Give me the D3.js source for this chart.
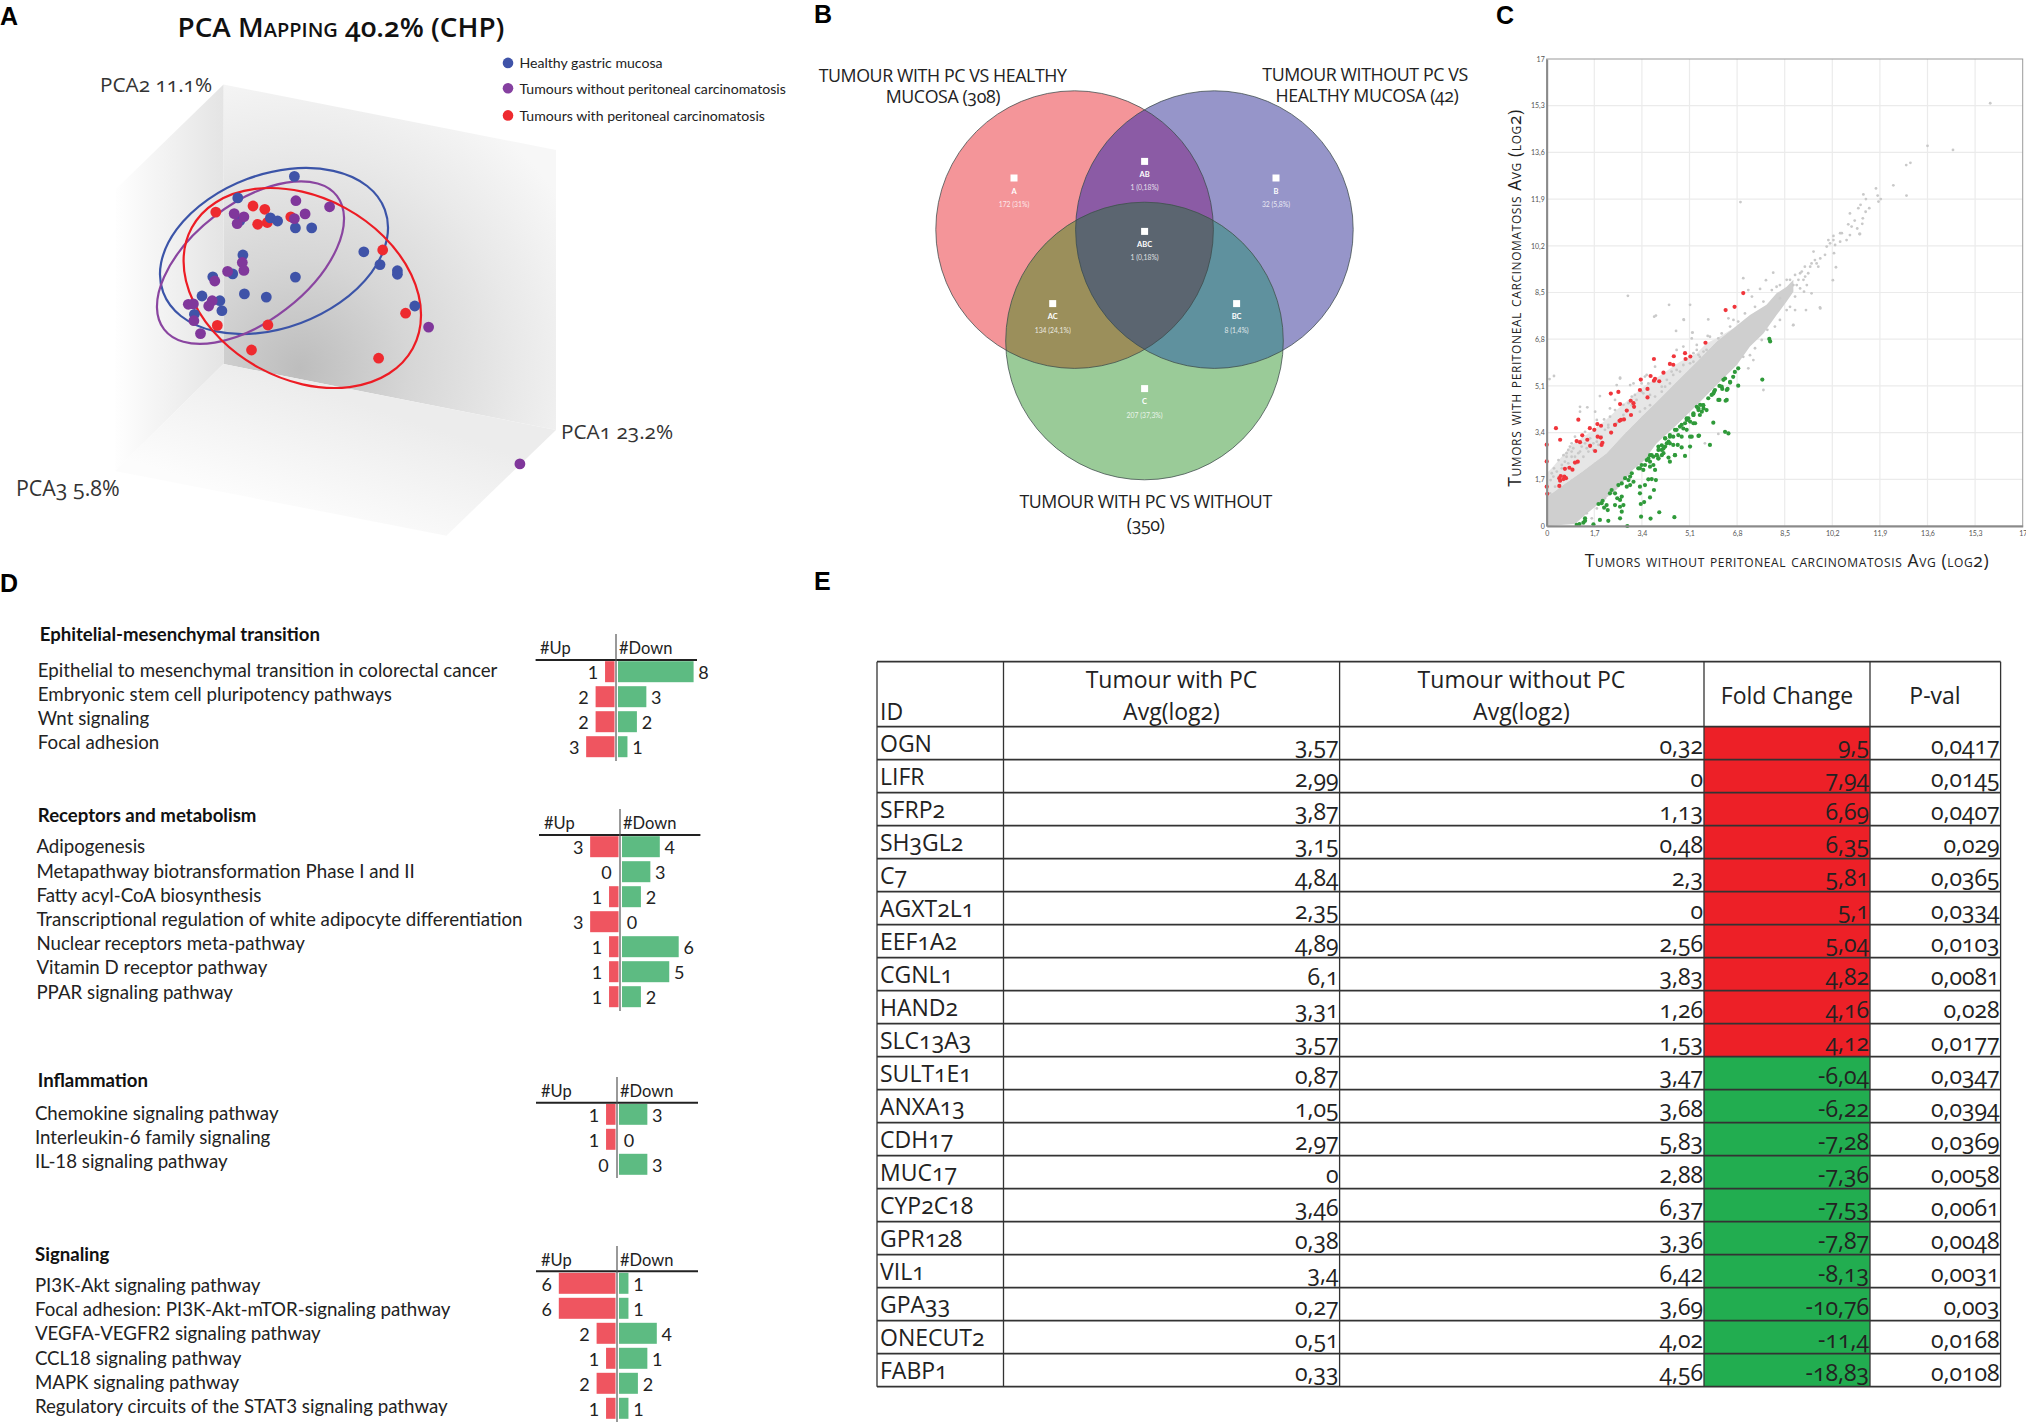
<!DOCTYPE html>
<html><head><meta charset="utf-8">
<script src="https://cdn.jsdelivr.net/npm/d3@7"></script>
<style>
html,body{margin:0;padding:0;background:#fff}
svg{display:block}
text{font-family:Lato,sans-serif;fill:#1a1a1a}
.onum{font-family:"Open Sans",Lato,sans-serif;font-feature-settings:"onum" 1;font-variant-numeric:oldstyle-nums}
.cap{font-variant-caps:small-caps}
</style></head><body>
<script>
// ---------- Panel A: PCA projection (projected plot units) ----------
const pcaHealthy=[[294.4,176.4],[237.8,197.9],[270.4,217.9],[277.6,221],[239.8,220.7],[295.4,227.9],[311.7,227.9],[363.8,251.8],[380,264.6],[397.4,270.7],[397.4,274.3],[242.9,255],[295.4,277.1],[212.8,276.8],[232.7,273.9],[244.4,293.9],[266.3,297.1],[202,296],[219.9,300.7],[221.9,310.7],[194.4,314.3],[414.8,306]];
const pcaWithout=[[295.9,200.7],[329.6,206.8],[305.1,213.9],[294.4,218.6],[234.2,213.6],[243.9,216.8],[237.2,223.6],[242.3,262.5],[243.9,270.4],[227.6,271.4],[214.8,281],[212.2,300.7],[208.7,306],[188.3,304.3],[193.4,303.9],[193.9,320.7],[200.5,333.6],[428.6,327.1],[519.9,463.9]];
const pcaWith=[[215.8,212.1],[253,206],[264.8,209.3],[290.8,216.8],[267.3,222.5],[257.7,224.3],[382.7,250],[405.6,313.2],[217.3,325.4],[267.9,325],[251.5,350],[378.6,358.2]];
const pcaLegend=["Healthy gastric mucosa","Tumours without peritoneal carcinomatosis","Tumours with peritoneal carcinomatosis"];
// ---------- Panel B: Venn ----------
const vennRegions=["A","AB","B","ABC","AC","BC","C"];
const vennCounts=["172 (31%)","1 (0,18%)","32 (5,8%)","1 (0,18%)","134 (24,1%)","8 (1,4%)","207 (37,3%)"];
// ---------- Panel C: scatter, [without PC, with PC] ----------
const cTicks=[0,1.7,3.4,5.1,6.8,8.5,10.2,11.9,13.6,15.3,17];
const denseCloud=[[0,1.05],[.6,1.5],[1.3,2],[2.14,2.65],[2.74,3.31],[3.33,3.92],[3.93,4.52],[4.64,5.25],[5.36,5.98],[6.07,6.72],[6.67,7.2],[7.26,7.68],[7.85,8.05],[8.21,8.47],[8.57,8.71],[8.81,8.96],[8.81,8.53],[8.57,8.17],[8.21,7.68],[7.74,7.01],[7.26,6.53],[6.79,5.86],[6.07,5.13],[5.36,4.4],[4.64,3.68],[3.93,3.01],[3.45,2.36],[3.09,2.06],[2.5,1.33],[1.96,.89],[1.37,.4],[1.01,.07],[0,0]];
const sparseFringe=[[0,1.92],[.18,2.1],[.48,2.46],[.89,2.95],[1.67,3.5],[2.08,3.83],[2.5,4.22],[2.98,4.65],[3.45,5.07],[4.17,5.56],[4.76,5.98],[5.36,6.29],[5.71,6.65],[6.19,6.9],[6.67,7.2],[6.07,6.72],[5.36,5.98],[4.64,5.25],[3.93,4.52],[3.33,3.92],[2.74,3.31],[2.14,2.65],[1.3,2],[.6,1.5],[0,1.05]];
const greyPoints=[[.1,5.35],[.26,5.46],[1.19,4.16],[1.45,4.32],[1.9,4.73],[2.62,5.4],[4.62,7.1],[5.2,7.04],[3.51,5.44],[.12,1.19],[.14,1.67],[.18,1.92],[.26,2.1],[.42,2.4],[.6,2.58],[.77,2.77],[.89,3.01],[1.01,3.25],[1.25,2.89],[1.37,3.01],[1.67,2.77],[1.85,2.95],[2.08,3.5],[2.2,3.68],[2.05,3.88],[1.79,3.86],[2.26,3.98],[2.44,4.22],[2.74,4.41],[3.04,4.71],[3.21,4.59],[3.45,4.83],[3.69,4.77],[4.11,5.07],[4.29,5.32],[4.46,5.62],[4.64,5.68],[4.88,5.86],[5.24,5.98],[5.42,6.23],[5.6,6.35],[5.83,6.89],[6.13,6.83],[2.98,5.13],[3.39,5.19],[3.57,5.5],[4.64,6.41],[5.36,6.59],[.89,2.71],[.71,2.52],[.54,2.22],[.77,2.28],[1.01,2.52],[1.19,2.71],[1.43,2.83],[1.43,.46],[1.61,.28],[1.79,.64],[2.08,1.01],[5.65,3.01],[6.13,3.35],[5.12,8.05],[5.77,7.52],[4.9,7.5],[5.21,7.04],[5.18,6.83],[5.75,6.92],[6.49,7.56],[6.67,7.5],[7.02,9.02],[7.2,8.59],[7.33,8.35],[7.62,8.63],[7.83,8.95],[8.09,9.22],[8.21,8.71],[8.57,8.96],[8.81,7.32],[9.26,7.86],[9.77,7.92],[7.74,4.95],[10.22,8.95],[10.33,9.42],[10.24,10.56],[9.19,8.53],[9.46,8.47],[8.87,7.86],[8.69,7.98],[8.33,8.29],[8.69,8.96],[8.87,9.14],[9.05,9.2],[8.81,8.77],[8.99,8.96],[9.22,9.44],[9.34,9.2],[9.17,8.96],[9.29,8.77],[9.58,9.68],[9.46,9.56],[9.7,9.44],[9.53,9.99],[9.77,9.74],[9.94,9.87],[10,10.17],[10.12,10.29],[10.26,9.93],[10.3,10.23],[10.24,10.41],[10.06,10.41],[10.48,10.66],[10.71,10.41],[10.83,10.59],[11.19,10.63],[10.48,10.35],[8.93,8.77],[9.11,9.26],[9.23,9.08],[9.41,9.44],[9.64,9.56],[15.84,15.39],[13.6,13.84],[14.51,13.69],[12.84,13.14],[12.99,13.22],[12.38,12.4],[12.85,12.03],[11.76,12.29],[11.31,12.07],[11.82,12.03],[11.93,11.9],[11.85,11.81],[11.4,11.9],[11.21,11.69],[11.52,11.57],[11.13,11.57],[11.39,11.44],[10.83,11.38],[11.29,11.2],[11,11.12],[10.77,10.98],[10.89,10.9],[11.09,10.83],[11.27,11],[11.17,10.63],[10.54,10.66],[6.92,11.79],[2.9,8.38],[4.37,8.05],[3.84,7.62],[3.9,7.66],[4.89,7.52],[9.76,7.96],[8.8,7.31],
[4.11,4.89],[4.4,5.19],[4.52,5.5],[4.76,5.62],[5.12,5.92],[5.24,6.29],[5.47,6.16],[5.71,6.41],[3.87,5.8],[3.63,5.19],[3.39,4.89],[3.1,5.19],[3.15,4.77],[2.92,4.47],[3.04,4.4],[2.74,4.04],[2.5,3.74],[2.26,4.28],[1.73,4.16],[2.62,5.37],[2.5,5.13],[2.2,3.59],[1.96,3.25],[1.79,3.07],[1.55,2.95],[4.88,6.53],[5.36,6.41],[3.87,4.71],[4.23,5.07],[3.69,4.4],[3.51,4.28],[3.33,4.16],[2.44,4.59],[.3,1.43],[.24,1.8],[.36,1.98],[.65,2.34],[.89,2.52],[1.13,2.65],[1.31,2.52],[1.07,2.28],[1.49,2.71],[1.67,3.01],[1.96,3.25],[.83,2.89],[.71,2.65],[.95,2.83],[.54,2.1],[1.55,3.19],[1.37,3.43],[1.19,4.34],
[6.25,7.01],[6.55,7.26],[6.84,7.44],[7.08,7.74],[7.44,7.98],[7.74,8.17],[8.04,8.59],[8.33,8.77],[7.02,6.16],[7.26,6.22],[7.44,6.47],[7.68,6.77],[7.88,7.14],[8.15,7.26],[8.33,7.5],[8.57,7.86],[8.87,8.35],[9.05,8.65],[7.2,5.74],[7.38,6.04]];
const redPoints=[[1.13,3.87],[.33,3.56],[.48,3.14],[0,2.96],[0,2.35],[0,1.43],[.02,1.17],[.45,1.46],[.45,1.74],[.48,1.65],[.63,1.8],[.69,1.74],[.6,1.71],[.5,1.82],[.65,2.08],[.81,2.12],[.92,2.05],[1.01,2.31],[1.11,2.34],[1.07,3.09],[1.19,3.05],[1.27,3.3],[1.45,3.14],[1.55,2.92],[1.54,3.56],[1.7,3.5],[1.81,3.71],[1.94,3.65],[1.82,3.25],[1.93,3.22],[1.96,2.95],[1.99,3.03],[1.73,2.73],[2.3,3.4],[2.44,3.68],[2.6,3.83],[2.65,3.86],[2.76,3.88],[3.01,4.04],[2.86,4.2],[2.62,4.44],[2.29,4.82],[2.56,4.88],[3,4.56],[3.1,4.47],[3.12,4.34],[3.33,4.95],[3.36,5.33],[3.6,4.99],[3.6,4.68],[3.71,5.46],[3.83,5.29],[3.87,5.36],[4.02,5.27],[3.83,6.08],[4.17,5.58],[4.4,5.9],[4.52,5.87],[4.54,6.18],[4.94,6.29],[4.96,6.08],[5.13,6.17],[5.67,6.67],[6.39,7.86],[6.71,7.98],[7.02,8.48]];
const greenPoints=[[1.07,.04],[1.17,.07],[1.31,.12],[1.37,.28],[1.37,.19],[1.67,.06],[1.9,.22],[2.2,.19],[2.62,.28],[2.88,0],[3.37,.34],[3.71,.27],[4.02,.5],[4.56,.32],[3.36,.8],[3.48,.87],[3.69,1.04],[2.68,.52],[2.62,.7],[2.74,.76],[2.44,.76],[2.14,.76],[2.05,.67],[2.18,.58],[1.96,.83],[1.85,.8],[2,.92],[2.26,1.19],[2.32,1.31],[2.44,1.19],[2.52,1.01],[2.62,.95],[2.68,1.07],[2.56,1.49],[2.68,1.55],[2.8,1.74],[2.92,1.67],[2.98,1.8],[3.04,1.92],[2.86,1.43],[2.98,1.49],[3.1,1.61],[3.33,1.19],[3.33,1.43],[3.51,1.49],[3.83,1.31],[3.63,1.7],[3.75,1.71],[3.9,1.67],[3.87,2.04],[3.45,2.04],[3.27,2.1],[3.39,2.22],[3.57,2.4],[3.69,2.34],[3.75,2.58],[3.93,2.58],[4.11,2.77],[3.99,2.89],[4.29,3.01],[4.23,3.19],[4.4,3.25],[4.64,3.5],[4.82,3.68],[5,3.92],[5.24,4.1],[5.48,4.41],[5.77,4.65],[5.98,4.89],[6.31,5.32],[6.55,5.22],[6.25,5.07],[6.43,4.95],[6.13,4.59],[6.43,4.59],[5.95,3.76],[6.37,3.43],[6.49,3.37],[5.83,2.95],[5.42,3.28],[5.12,2.89],[4.94,2.55],[4.58,2.58],[4.4,2.34],[4.68,2.95],[4.82,2.86],[5.12,3.25],[4.82,3.25],[4.52,2.95],[4.4,3.01],[4.17,2.65],[3.99,2.46],[4.23,2.89],[5.24,3.74],[5,3.5],[5.6,4.28],[5.42,4.22],[7.7,5.33],[7.95,6.81],[7.98,6.72],[6.84,5.11],[6.84,5.74],[6.72,5.61],[6.66,5.43],[6.55,5.25],[6.37,5.37],[6.17,5.1],[6.46,4.99],[6.27,4.99],[5.95,4.82],[6.17,4.59],[6.39,4.56],[5.59,4.39],[5.36,4.34],[5.24,4.04],[5,3.86],
[6.01,4.95],[5.89,4.77],[5.59,4.4],[5.42,4.28],[5.54,4.16],[5.24,4.04],[5.06,3.92],[4.94,3.74],[4.76,3.62],[4.58,3.5],[4.4,3.31],[4.23,3.19],[4.11,2.94],[3.99,2.77],[3.81,2.52],[3.63,2.46],[3.51,2.22],[3.33,2.1],[5.12,3.8],[4.88,3.55],[4.7,3.31],[4.52,3.25],[4.35,3.07],[4.17,2.82],[4.11,2.58],[4.35,2.49],[4.58,2.58],[5.18,3.25],[5.44,3.29],[5.3,3.74],[5.47,4.04],[5.71,4.22],[3.93,2.58],[3.69,2.58],[3.99,2.46],[3.81,2.22],[3.69,2.16]];
// ---------- Panel D ----------
const emtTitle="Ephitelial-mesenchymal transition";
const emtPaths=["Epithelial to mesenchymal transition in colorectal cancer","Embryonic stem cell pluripotency pathways","Wnt signaling","Focal adhesion"];
const emtUp=[1,2,2,3], emtDown=[8,3,2,1], emtDownLabel=[8,3,2,1];
const recTitle="Receptors and metabolism";
const recPaths=["Adipogenesis","Metapathway biotransformation Phase I and II","Fatty acyl-CoA biosynthesis","Transcriptional regulation of white adipocyte differentiation","Nuclear receptors meta-pathway","Vitamin D receptor pathway","PPAR signaling pathway"];
const recUp=[3,0,1,3,1,1,1], recDown=[4,3,2,0,6,5,2], recDownLabel=[4,3,2,0,6,5,2];
const infTitle="Inflammation";
const infPaths=["Chemokine signaling pathway","Interleukin-6 family signaling","IL-18 signaling pathway"];
const infUp=[1,1,0], infDown=[3,0,3], infDownLabel=[3,0,3];
const sigTitle="Signaling";
const sigPaths=["PI3K-Akt signaling pathway","Focal adhesion: PI3K-Akt-mTOR-signaling pathway","VEGFA-VEGFR2 signaling pathway","CCL18 signaling pathway","MAPK signaling pathway","Regulatory circuits of the STAT3 signaling pathway"];
const sigUp=[6,6,2,1,2,1], sigDown=[1,1,4,3,2,1], sigDownLabel=[1,1,4,1,2,1];
// ---------- Panel E ----------
const geneIds=["OGN","LIFR","SFRP2","SH3GL2","C7","AGXT2L1","EEF1A2","CGNL1","HAND2","SLC13A3","SULT1E1","ANXA13","CDH17","MUC17","CYP2C18","GPR128","VIL1","GPA33","ONECUT2","FABP1"];
const avgWith=["3,57","2,99","3,87","3,15","4,84","2,35","4,89","6,1","3,31","3,57","0,87","1,05","2,97","0","3,46","0,38","3,4","0,27","0,51","0,33"];
const avgWithout=["0,32","0","1,13","0,48","2,3","0","2,56","3,83","1,26","1,53","3,47","3,68","5,83","2,88","6,37","3,36","6,42","3,69","4,02","4,56"];
const foldChange=["9,5","7,94","6,69","6,35","5,81","5,1","5,04","4,82","4,16","4,12","-6,04","-6,22","-7,28","-7,36","-7,53","-7,87","-8,13","-10,76","-11,4","-18,83"];
const pVal=["0,0417","0,0145","0,0407","0,029","0,0365","0,0334","0,0103","0,0081","0,028","0,0177","0,0347","0,0394","0,0369","0,0058","0,0061","0,0048","0,0031","0,003","0,0168","0,0108"];

const svg=d3.select("body").append("svg").attr("width",2026).attr("height",1423).attr("viewBox","0 0 2026 1423");
const defs=svg.append("defs");
function T(g,s,x,y,o={}){
  const e=g.append("text").attr("x",x).attr("y",y).attr("dominant-baseline","central").text(s);
  if(o.size)e.style("font-size",o.size+"px");
  if(o.w)e.style("font-weight",o.w);
  if(o.a)e.attr("text-anchor",o.a);
  if(o.c)e.attr("class",o.c);
  if(o.f)e.style("fill",o.f);
  if(o.ff)e.style("font-family",o.ff);
  if(o.ls)e.style("letter-spacing",o.ls);
  if(o.op)e.style("opacity",o.op);
  return e;
}
// panel letters
[["A",0,16],["B",814,14],["C",1496,15],["D",0,583],["E",814,581]].forEach(d=>T(svg,d[0],d[1],d[2],{size:25,w:700,ff:'"Liberation Sans",Arial,sans-serif',f:"#000"}));

// ===== A =====
(function(){
  const g=svg.append("g");
  const x=d3.scaleLinear([0,800],[0,800]), y=d3.scaleLinear([0,560],[0,560]);
  const back=defs.append("radialGradient").attr("id","back").attr("gradientUnits","userSpaceOnUse").attr("cx",300).attr("cy",368).attr("r",310);
  [[0,"#bdbdbd"],[.35,"#d6d6d6"],[.7,"#e9e9e9"],[1,"#f7f7f7"]].forEach(s=>back.append("stop").attr("offset",s[0]).attr("stop-color",s[1]));
  const left=defs.append("linearGradient").attr("id","leftw").attr("gradientUnits","userSpaceOnUse").attr("x1",224).attr("y1",0).attr("x2",112).attr("y2",0);
  [[0,"#e4e4e4"],[1,"#ffffff"]].forEach(s=>left.append("stop").attr("offset",s[0]).attr("stop-color",s[1]));
  const fl=defs.append("linearGradient").attr("id","floor").attr("gradientUnits","userSpaceOnUse").attr("x1",320).attr("y1",390).attr("x2",280).attr("y2",510);
  [[0,"#ececec"],[1,"#fcfcfc"]].forEach(s=>fl.append("stop").attr("offset",s[0]).attr("stop-color",s[1]));
  const walls=[{id:"back",p:[[223.5,84.6],[556,150],[556,430],[223.5,364]]},{id:"leftw",p:[[223.5,84.6],[223.5,364],[115,471],[116,189]]},{id:"floor",p:[[223.5,364],[556,430],[446.4,535.7],[115,471]]}];
  g.selectAll("polygon").data(walls).join("polygon").attr("points",d=>d.p.map(q=>[x(q[0]),y(q[1])].join(",")).join(" ")).attr("fill",d=>`url(#${d.id})`);
  T(svg,"PCA Mapping 40.2% (CHP)",341,26,{size:27.9,w:600,a:"middle",c:"cap onum",f:"#111"});
  T(svg,"PCA2 11.1%",100,84,{size:20.8,c:"onum",f:"#333"});
  T(svg,"PCA1 23.2%",561,431,{size:20.8,c:"onum",f:"#333"});
  T(svg,"PCA3 5.8%",16,487,{size:21.4,c:"onum",f:"#333"});
  const ell=[{c:"#3b54a8",cx:274,cy:251,a:118.3,b:76.8,t:-20.5},{c:"#8a45a0",cx:250.5,cy:262.6,a:109.2,b:58.6,t:-37.7},{c:"#ed1c24",cx:302.3,cy:288,a:125.9,b:90.8,t:28.7}];
  g.selectAll("ellipse").data(ell).join("ellipse").attr("rx",d=>d.a).attr("ry",d=>d.b)
    .attr("transform",d=>`translate(${x(d.cx)},${y(d.cy)}) rotate(${d.t})`).attr("fill","none").attr("stroke",d=>d.c).attr("stroke-width",2.2);
  const series=[[pcaWith,"#ee2a2f"],[pcaHealthy,"#3f53a8"],[pcaWithout,"#80379b"]];
  series.forEach(([pts,col])=>g.append("g").selectAll("circle").data(pts).join("circle").attr("cx",d=>x(d[0])).attr("cy",d=>y(d[1])).attr("r",5.4).attr("fill",col));
  const lc=["#3f53a8","#8540a0","#ee2a2f"], ly=[62.9,88.2,115.4];
  pcaLegend.forEach((s,i)=>{g.append("circle").attr("cx",x(508)).attr("cy",y(ly[i])).attr("r",5.3).attr("fill",lc[i]);T(svg,s,519.5,ly[i],{size:14.1,f:"#222"});});
})();

// ===== B =====
(function(){
  const g=svg.append("g");
  const A=[1074.6,229.6],B=[1214.4,229.6],C=[1144.5,341],r=138.8;
  [["cA",A],["cB",B],["cC",C]].forEach(([id,c])=>defs.append("clipPath").attr("id",id).append("circle").attr("cx",c[0]).attr("cy",c[1]).attr("r",r));
  const circ=(c,f)=>g.append("circle").attr("cx",c[0]).attr("cy",c[1]).attr("r",r).attr("fill",f);
  circ(A,"#f49599");circ(B,"#9695c9");circ(C,"#9acb98");
  const gAB=g.append("g").attr("clip-path","url(#cA)");gAB.append("circle").attr("cx",B[0]).attr("cy",B[1]).attr("r",r).attr("fill","#8b5ba5");
  const gAC=g.append("g").attr("clip-path","url(#cA)");gAC.append("circle").attr("cx",C[0]).attr("cy",C[1]).attr("r",r).attr("fill","#9b8f5b");
  const gBC=g.append("g").attr("clip-path","url(#cB)");gBC.append("circle").attr("cx",C[0]).attr("cy",C[1]).attr("r",r).attr("fill","#5f919e");
  const gABC=g.append("g").attr("clip-path","url(#cA)").append("g").attr("clip-path","url(#cB)");gABC.append("circle").attr("cx",C[0]).attr("cy",C[1]).attr("r",r).attr("fill","#5b6570");
  [A,B,C].forEach(c=>g.append("circle").attr("cx",c[0]).attr("cy",c[1]).attr("r",r).attr("fill","none").attr("stroke","#3c4a4a").attr("stroke-opacity",.75).attr("stroke-width",1));
  const lp=[[1014,178],[1144.6,161.4],[1276,178],[1144.6,231.4],[1052.7,303.6],[1236.6,303.6],[1144.6,388.6]];
  vennRegions.forEach((s,i)=>{const[px,py]=lp[i];
    g.append("rect").attr("x",px-3.5).attr("y",py-3.5).attr("width",7).attr("height",7).attr("fill","#fff");
    T(svg,s,px,py+13,{size:7.5,w:700,a:"middle",f:"#fff"});
    T(svg,vennCounts[i],px,py+26,{size:6.8,a:"middle",f:"#fff",op:.8});
  });
  const o={size:17.8,a:"middle",c:"onum",f:"#222",w:500,ls:"-0.4px"};
  T(svg,"TUMOUR WITH PC VS HEALTHY",942.6,74.5,o);T(svg,"MUCOSA (308)",942.9,96,o);
  T(svg,"TUMOUR WITHOUT PC VS",1365,74,o);T(svg,"HEALTHY MUCOSA (42)",1367,95,o);
  T(svg,"TUMOUR WITH PC VS WITHOUT",1145.6,501,o);T(svg,"(350)",1145.6,523.5,o);
})();

// ===== C =====
(function(){
  const g=svg.append("g");
  const x=d3.scaleLinear([0,17],[1546.7,2022.7]), y=d3.scaleLinear([0,17],[526,59]);
  const fmt=d=>String(d).replace(".",",");
  g.append("g").selectAll("line").data(cTicks.slice(1,-1)).join("line").attr("x1",d=>x(d)).attr("x2",d=>x(d)).attr("y1",y(17)).attr("y2",y(0)).attr("stroke","#ebebeb").attr("stroke-width",1.2);
  g.append("g").selectAll("line").data(cTicks.slice(1,-1)).join("line").attr("y1",d=>y(d)).attr("y2",d=>y(d)).attr("x1",x(0)).attr("x2",x(17)).attr("stroke","#ebebeb").attr("stroke-width",1.2);
  const area=d3.line().x(d=>x(d[0])).y(d=>y(d[1]));
  g.append("path").datum(sparseFringe).attr("d",area).attr("fill","#e6e6e6");
  g.append("path").datum(denseCloud).attr("d",area).attr("fill","#cfcfcf");
  const dots=(pts,r,col)=>g.append("g").selectAll("circle").data(pts).join("circle").attr("cx",d=>x(d[0])).attr("cy",d=>y(d[1])).attr("r",r).attr("fill",col);
  dots(greyPoints,1.4,"#c9c9c9");dots(redPoints,2.1,"#f0353b");dots(greenPoints,2.1,"#2f9a3a");
  g.append("rect").attr("x",x(0)).attr("y",y(17)).attr("width",x(17)-x(0)).attr("height",y(0)-y(17)).attr("fill","none").attr("stroke","#9a9a9a").attr("stroke-width",1);
  const ax=g.append("g").attr("transform",`translate(0,${y(0)})`).call(d3.axisBottom(x).tickValues(cTicks).tickFormat(fmt).tickSize(0).tickPadding(5));
  const ay=g.append("g").attr("transform",`translate(${x(0)},0)`).call(d3.axisLeft(y).tickValues(cTicks).tickFormat(fmt).tickSize(0).tickPadding(2));
  [ax,ay].forEach(a=>{a.select(".domain").attr("stroke","#8a8a8a").attr("stroke-width",2);a.selectAll("text").style("font-size","7px").style("fill","#555");});
  T(svg,"Tumors without peritoneal carcinomatosis Avg (log2)",1787,560,{size:17.5,w:500,a:"middle",c:"cap onum",ls:"0.6px",f:"#222"});
  const yl=T(svg,"Tumors with peritoneal carcinomatosis Avg (log2)",0,0,{size:17.4,w:500,a:"middle",c:"cap onum",ls:"0.6px",f:"#222"});
  yl.attr("transform","translate(1514,298) rotate(-90)");
})();

// ===== D =====
(function(){
  const g=svg.append("g");
  const unit=d3.scaleLinear([0,8],[0,75.6]);
  const groups=[
    {title:emtTitle,p:emtPaths,up:emtUp,dn:emtDown,lab:emtDownLabel,tx:39.7,ty:634,rx:37.8,ry:669.7,ax:616,a0:634,a1:761,hy:648,ly:660,l0:535.6,l1:697,by:671.7},
    {title:recTitle,p:recPaths,up:recUp,dn:recDown,lab:recDownLabel,tx:37.8,ty:815,rx:36.4,ry:846.3,ax:620,a0:809,a1:1011,hy:823,ly:835,l0:539,l1:700.4,by:846.7},
    {title:infTitle,p:infPaths,up:infUp,dn:infDown,lab:infDownLabel,tx:37.8,ty:1079.5,rx:34.9,ry:1113,ax:617,a0:1077,a1:1178,hy:1090.7,ly:1102.7,l0:536,l1:698,by:1114.3},
    {title:sigTitle,p:sigPaths,up:sigUp,dn:sigDown,lab:sigDownLabel,tx:35,ty:1253.7,rx:34.9,ry:1285,ax:617,a0:1246,a1:1422,hy:1259.7,ly:1271.3,l0:536,l1:698,by:1283.3}];
  groups.forEach(G=>{
    T(svg,G.title,G.tx,G.ty,{size:18.6,w:700,f:"#111"});
    const textY=d3.scaleLinear([0,1],[G.ry,G.ry+24.2]), barY=d3.scaleLinear([0,1],[G.by,G.by+25]);
    G.p.forEach((s,i)=>T(svg,s,G.rx,textY(i),{size:18.7,f:"#222"}));
    T(svg,"#Up",G.ax-76,G.hy,{size:16.5,f:"#222"});T(svg,"#Down",G.ax+3,G.hy,{size:16.5,f:"#222"});
    g.append("g").selectAll("rect").data(G.up).join("rect").attr("x",d=>G.ax-1.5-unit(d)).attr("y",(d,i)=>barY(i)-10.5).attr("width",d=>unit(d)).attr("height",21).attr("fill","#ef5560");
    g.append("g").selectAll("rect").data(G.dn).join("rect").attr("x",G.ax+2).attr("y",(d,i)=>barY(i)-10.5).attr("width",d=>unit(d)).attr("height",21).attr("fill","#5dbb82");
    G.up.forEach((d,i)=>T(svg,d,G.ax-1.5-unit(d)-12,barY(i)+.5,{size:18,a:"middle",f:"#222"}));
    G.lab.forEach((d,i)=>T(svg,d,G.ax+2+unit(G.dn[i])+10,barY(i)+.5,{size:18,a:"middle",f:"#222"}));
    g.append("line").attr("x1",G.l0).attr("x2",G.l1).attr("y1",G.ly).attr("y2",G.ly).attr("stroke","#222").attr("stroke-width",2);
    g.append("line").attr("x1",G.ax).attr("x2",G.ax).attr("y1",G.a0).attr("y2",G.a1).attr("stroke","#555").attr("stroke-width",1.2);
  });
})();

// ===== E =====
(function(){
  const g=svg.append("g");
  const cols=[877,1003.5,1339.6,1704,1870,2000.6];
  const top=661.7, y=d3.scaleBand(geneIds,[726.7,1386.7]);
  g.append("g").selectAll("rect").data(foldChange).join("rect").attr("x",cols[3]).attr("y",(d,i)=>y(geneIds[i])).attr("width",cols[4]-cols[3]).attr("height",y.bandwidth()).attr("fill",d=>d[0]==="-"?"#22ad50":"#ed2027");
  const fs=23, o={size:fs,c:"onum",f:"#222"};
  T(svg,"ID",880,710.5,o);
  [["Tumour with PC",679],["Avg(log2)",710.5]].forEach(d=>T(svg,d[0],1171.5,d[1],{...o,a:"middle"}));
  [["Tumour without PC",679],["Avg(log2)",710.5]].forEach(d=>T(svg,d[0],1521.5,d[1],{...o,a:"middle"}));
  T(svg,"Fold Change",1787,694.5,{...o,a:"middle"});T(svg,"P-val",1935,694.5,{...o,a:"middle"});
  geneIds.forEach((id,i)=>{
    const yy=y(id);
    T(svg,id,880,yy+16,o);
    [[avgWith,cols[2]],[avgWithout,cols[3]],[foldChange,cols[4]],[pVal,cols[5]]].forEach(([arr,xr])=>T(svg,arr[i],xr-1,yy+18.5,{...o,a:"end"}));
  });
  const rows=[top,...geneIds.map(d=>y(d)),y(geneIds[19])+y.bandwidth()];
  g.append("g").selectAll("line").data(rows).join("line").attr("x1",cols[0]).attr("x2",cols[5]).attr("y1",d=>d).attr("y2",d=>d).attr("stroke","#333").attr("stroke-width",1.8);
  g.append("g").selectAll("line").data(cols).join("line").attr("x1",d=>d).attr("x2",d=>d).attr("y1",top).attr("y2",y(geneIds[19])+y.bandwidth()).attr("stroke","#333").attr("stroke-width",1.3);
})();
</script></body></html>
